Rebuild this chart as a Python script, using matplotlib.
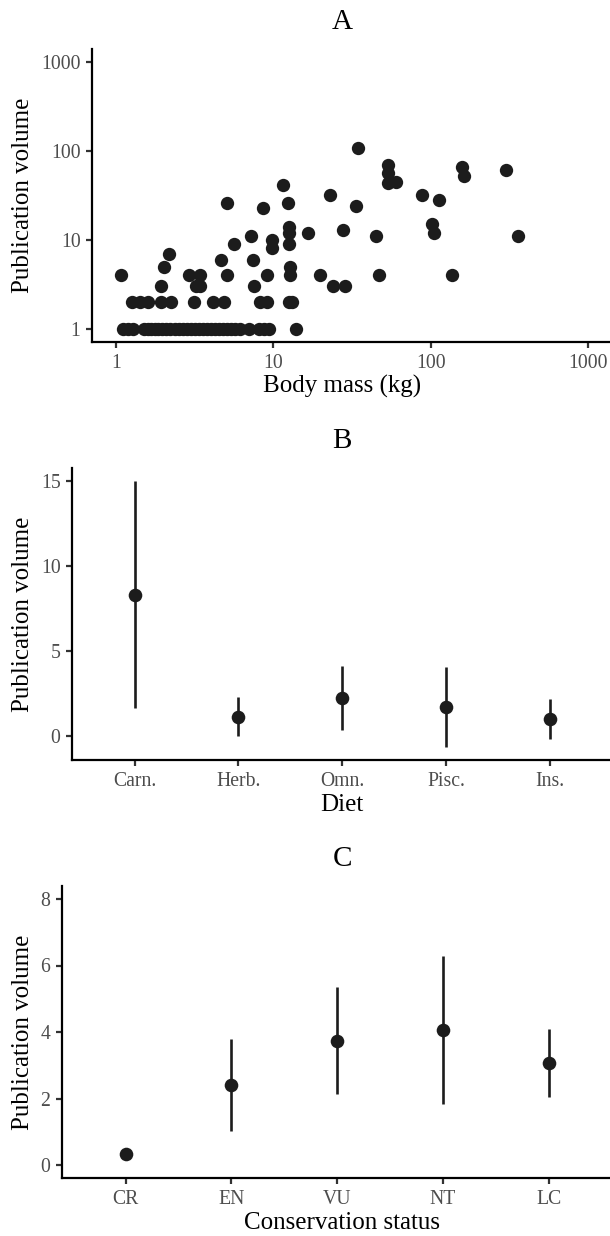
import matplotlib
matplotlib.use("Agg")
import matplotlib.pyplot as plt
import numpy as np

plt.rcParams['font.family'] = ['Liberation Serif', 'DejaVu Serif']

# ---------------- data ----------------
# Panel A: body mass (kg) vs publication volume
body_mass = [
    # publication volume = 1
    1.11, 1.19, 1.28, 1.51, 1.60, 1.67, 1.77, 1.85, 1.96, 2.08, 2.20, 2.37,
    2.52, 2.67, 2.83, 3.00, 3.18, 3.37, 3.57, 3.79, 4.02, 4.26, 4.52, 4.79,
    5.08, 5.38, 5.71, 6.14, 7.01, 8.11, 8.73, 9.39, 13.9,
    # publication volume = 2
    1.26, 1.42, 1.59, 1.93, 2.25, 3.11, 4.16, 4.86, 8.23, 9.12, 12.5, 13.2,
    # others
    1.08, 1.93, 2.02, 2.18, 2.90, 3.42, 3.23, 3.42, 5.10, 4.63, 5.10, 5.65,
    7.18, 7.40, 7.57, 8.64, 9.08, 9.77, 9.77, 11.6, 12.35, 12.6, 12.6, 12.6,
    12.8, 12.8, 16.7, 19.8, 22.9, 24.1, 27.8, 28.6, 33.6, 34.4, 44.8, 46.8,
    53.2, 53.2, 53.2, 60.3, 87.8, 102.5, 104.7, 112.5, 136, 157.7, 163, 301, 361,
]
publications = [
    1, 1, 1, 1, 1, 1, 1, 1, 1, 1, 1, 1,
    1, 1, 1, 1, 1, 1, 1, 1, 1, 1, 1, 1,
    1, 1, 1, 1, 1, 1, 1, 1, 1,
    2, 2, 2, 2, 2, 2, 2, 2, 2, 2, 2, 2,
    4, 3, 5, 7, 4, 4, 3, 3, 26, 6, 4, 9,
    11, 6, 3, 23, 4, 10, 8, 41, 26, 14, 12, 9,
    5, 4, 12, 4, 32, 3, 13, 3, 24, 107, 11, 4,
    70, 56, 44, 45, 32, 15, 12, 28, 4, 67, 52, 62, 11,
]
log_ticks = [1, 10, 100, 1000]
log_tick_labels = ['1', '10', '100', '1000']

# Panel B: diet
diet = ['Carn.', 'Herb.', 'Omn.', 'Pisc.', 'Ins.']
diet_mean = [8.3, 1.12, 2.22, 1.69, 0.98]
diet_lo = [1.61, 0.0, 0.32, -0.65, -0.18]
diet_hi = [15.0, 2.29, 4.1, 4.02, 2.14]
diet_ticks = [0, 5, 10, 15]

# Panel C: conservation status
status = ['CR', 'EN', 'VU', 'NT', 'LC']
status_mean = [0.32, 2.40, 3.74, 4.05, 3.06]
status_lo = [0.32, 1.03, 2.14, 1.83, 2.04]
status_hi = [0.32, 3.79, 5.36, 6.29, 4.09]
status_ticks = [0, 2, 4, 6, 8]

# ---------------- layout ----------------
W, H = 610, 1236
fig = plt.figure(figsize=(W / 100, H / 100), dpi=100)

def rect(left, top, right, bottom):
    return [left / W, 1 - bottom / H, (right - left) / W, (bottom - top) / H]

ink = '#1c1c1c'
tick_col = '#333333'
lab_col = '#4D4D4D'

def style(ax):
    for s in ['top', 'right']:
        ax.spines[s].set_visible(False)
    for s in ['left', 'bottom']:
        ax.spines[s].set_linewidth(1.6)
        ax.spines[s].set_color('black')
    ax.tick_params(axis='both', which='major', length=4.5, width=1.6,
                   color=tick_col, labelcolor=lab_col, labelsize=14.2, pad=4.0)
    ax.tick_params(axis='both', which='minor', length=0)

def labels(title, xlabel, top, bottom):
    cx = 342 / W
    fig.text(cx, 1 - (top - 20) / H, title, ha='center', va='baseline', fontsize=21, color='black')
    fig.text(cx, 1 - (bottom + 51) / H, xlabel, ha='center', va='baseline', fontsize=18, color='black')
    fig.text(23 / W, 1 - ((top + bottom) / 2) / H, 'Publication volume', rotation=90,
             ha='center', va='center', fontsize=18, color='black')

# Panel A
axA = fig.add_axes(rect(92.4, 49, 611.6, 342))
axA.scatter(body_mass, publications, s=92, color=ink, linewidths=0, zorder=3)
axA.set_xscale('log')
axA.set_yscale('log')
axA.set_xlim(10 ** -0.15, 10 ** 3.15)
axA.set_ylim(10 ** -0.15, 10 ** 3.15)
axA.set_xticks(log_ticks)
axA.set_xticklabels(log_tick_labels)
axA.set_yticks(log_ticks)
axA.set_yticklabels(log_tick_labels)
style(axA)
labels('A', 'Body mass (kg)', 49, 342)

# Panel B
axB = fig.add_axes(rect(72.4, 468, 612, 760))
xb = np.arange(1, len(diet) + 1)
axB.vlines(xb, diet_lo, diet_hi, color=ink, linewidth=1.9, zorder=2)
axB.plot(xb, diet_mean, 'o', color=ink, markersize=9.8, markeredgewidth=0, zorder=3)
axB.set_xlim(0.4, 5.6)
axB.set_ylim(-1.43, 15.75)
axB.set_xticks(xb)
axB.set_xticklabels(diet)
axB.set_yticks(diet_ticks)
style(axB)
labels('B', 'Diet', 468, 760)

# Panel C
axC = fig.add_axes(rect(62.2, 885.7, 612, 1178.3))
xc = np.arange(1, len(status) + 1)
axC.vlines(xc, status_lo, status_hi, color=ink, linewidth=1.9, zorder=2)
axC.plot(xc, status_mean, 'o', color=ink, markersize=9.8, markeredgewidth=0, zorder=3)
axC.set_xlim(0.4, 5.6)
axC.set_ylim(-0.4, 8.4)
axC.set_xticks(xc)
axC.set_xticklabels(status)
axC.set_yticks(status_ticks)
style(axC)
labels('C', 'Conservation status', 885.7, 1178.3)

fig.savefig('out.png', dpi=100, facecolor='white')
